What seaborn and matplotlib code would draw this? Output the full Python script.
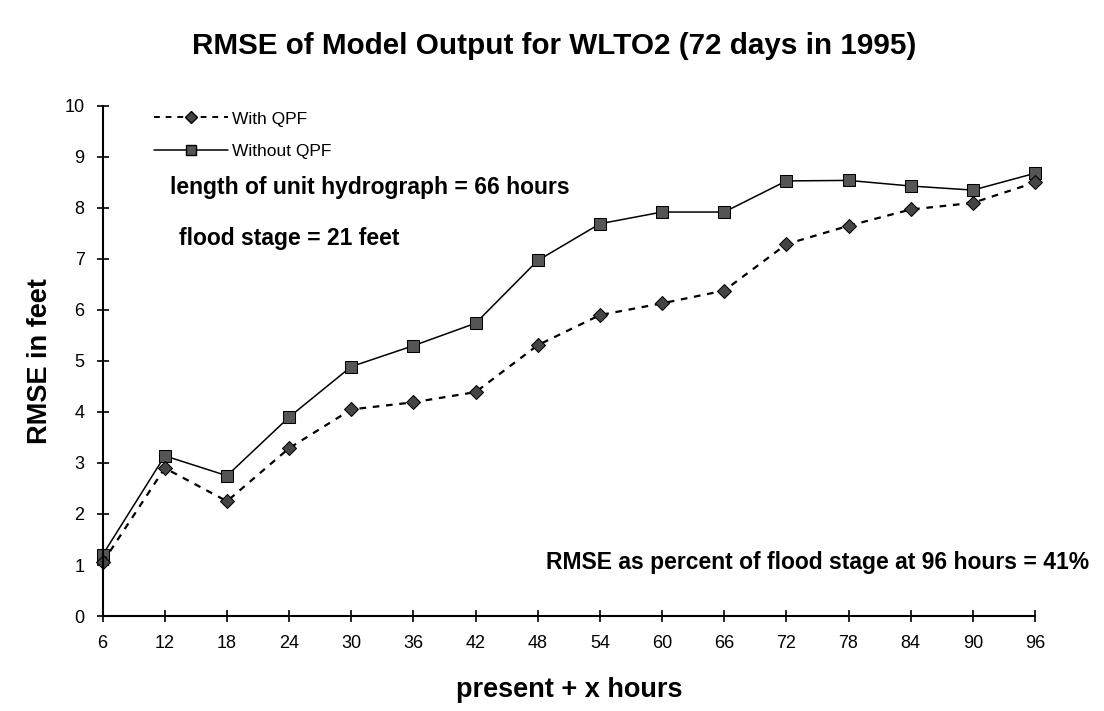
import matplotlib.pyplot as plt
import matplotlib.ticker as mticker
from matplotlib.lines import Line2D
import seaborn as sns
import pandas as pd

hours = [6, 12, 18, 24, 30, 36, 42, 48, 54, 60, 66, 72, 78, 84, 90, 96]
with_qpf = [1.05, 2.90, 2.25, 3.29, 4.05, 4.19, 4.39, 5.31, 5.90, 6.13, 6.38, 7.29, 7.65, 7.97, 8.10, 8.50]
without_qpf = [1.20, 3.14, 2.75, 3.90, 4.89, 5.30, 5.74, 6.97, 7.69, 7.92, 7.92, 8.53, 8.54, 8.43, 8.35, 8.68]

df = pd.DataFrame({"hours": hours, "With QPF": with_qpf, "Without QPF": without_qpf})

sns.set_style("ticks")
plt.rcParams['font.family'] = ['Liberation Sans', 'DejaVu Sans']
plt.rcParams['text.color'] = 'black'
plt.rcParams['axes.labelcolor'] = 'black'

fig, ax = plt.subplots(figsize=(11.04, 7.11), dpi=100)
fig.subplots_adjust(left=0.093, right=0.9375, bottom=0.1336, top=0.851)

sns.lineplot(data=df, x="hours", y="Without QPF", ax=ax, color="black", linewidth=1.1,
             marker="s", markersize=8, markerfacecolor="#555555", markeredgecolor="black",
             clip_on=False)
sns.lineplot(data=df, x="hours", y="With QPF", ax=ax, color="black", linewidth=1.6,
             linestyle=(0, (3, 3)), marker="D", markersize=7,
             markerfacecolor="#444444", markeredgecolor="black", clip_on=False)

ax.set_xlim(6, 96)
ax.set_ylim(0, 10)
ax.set_xticks(hours)
ax.set_yticks(range(0, 11))
ax.yaxis.set_major_formatter(mticker.FormatStrFormatter('%d'))
ax.tick_params(direction="inout", length=8, width=1.2, labelsize=13, colors="black")
ax.tick_params(axis="x", pad=10)
ax.tick_params(axis="y", pad=9)
sns.despine(ax=ax)
for s in ["left", "bottom"]:
    ax.spines[s].set_linewidth(1.5)
    ax.spines[s].set_color("black")

ax.set_xlabel("present + x hours", fontsize=19.5, fontweight="bold", labelpad=18)
ax.set_ylabel("RMSE in feet", fontsize=19.5, fontweight="bold", labelpad=8)
fig.suptitle("RMSE of Model Output for WLTO2 (72 days in 1995)", fontsize=21.3,
             fontweight="bold", x=0.502, y=0.955)

handles = [
    Line2D([], [], color="black", linewidth=1.4, linestyle=(0, (3, 3)), marker="D",
           markersize=6.5, markerfacecolor="#444444", markeredgecolor="black"),
    Line2D([], [], color="black", linewidth=1.1, marker="s", markersize=6.5,
           markerfacecolor="#555555", markeredgecolor="black"),
]
ax.legend(handles, ["With QPF", "Without QPF"], loc="upper left", frameon=False,
          fontsize=12.5, bbox_to_anchor=(0.038, 1.02), handlelength=4.3,
          handletextpad=0.2, labelspacing=1.0)

ax.text(0.072, 0.84, "length of unit hydrograph = 66 hours", transform=ax.transAxes,
        fontsize=16.5, fontweight="bold", va="center")
ax.text(0.082, 0.74, "flood stage = 21 feet", transform=ax.transAxes,
        fontsize=16.5, fontweight="bold", va="center")
ax.text(1.058, 0.105, "RMSE as percent of flood stage at 96 hours = 41%", transform=ax.transAxes,
        fontsize=16.5, fontweight="bold", va="center", ha="right")

fig.savefig("out.png", dpi=100, facecolor="white")
